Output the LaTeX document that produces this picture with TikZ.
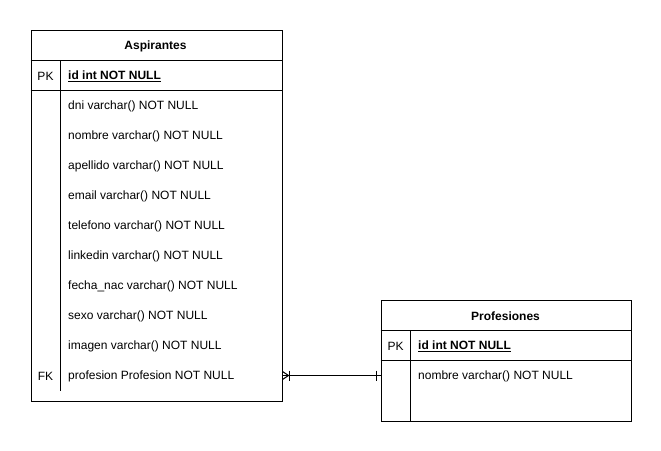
\documentclass[tikz,border=0pt]{standalone}
\usepackage{fontspec}
\setmainfont{Liberation Sans}
\usetikzlibrary{calc}
\begin{document}
\begin{tikzpicture}[x=1bp,y=-1bp,
  font=\fontsize{12bp}{14bp}\selectfont,
  tbl/.style={draw=black, line width=1bp, anchor=north west, inner sep=0pt},
  rule/.style={draw=black, line width=1bp},
  rowtxt/.style={anchor=west, inner sep=0pt, text=black, yshift=-1.2bp},
  keytxt/.style={inner sep=0pt, text=black, yshift=-1.2bp},
  ttl/.style={inner sep=0pt, yshift=-1.2bp, font=\fontsize{12bp}{14bp}\selectfont\bfseries},
  pktxt/.style={anchor=west, inner sep=0pt, yshift=-1.2bp, font=\fontsize{12bp}{14bp}\selectfont\bfseries}]
\useasboundingbox (0,0) rectangle (661,451);
\fill[white] (0,0) rectangle (661,451);
% Aspirantes
\node[tbl, minimum width=251bp, minimum height=370bp] (asp) at (30.5,30.5) {};
\draw[rule] ($(asp.north west)+(0,30)$) -- ($(asp.north east)+(0,30)$);
\draw[rule] ($(asp.north west)+(0,60)$) -- ($(asp.north east)+(0,60)$);
\draw[rule] ($(asp.north west)+(30,30)$) -- ($(asp.north west)+(30,60)$);
\draw[rule] ($(asp.north west)+(30,60)$) -- ($(asp.north west)+(30,360)$);
\node[ttl] (aspt) at (155.5,45.5) {Aspirantes};
\node[keytxt] (asppk) at (45.5,75.5) {PK};
\node[pktxt] (aspid) at (68,75.5) {\underline{id int NOT NULL}};
\node[rowtxt] (r1) at (68,105.5) {dni varchar() NOT NULL};
\node[rowtxt] (r2) at (68,135.5) {nombre varchar() NOT NULL};
\node[rowtxt] (r3) at (68,165.5) {apellido varchar() NOT NULL};
\node[rowtxt] (r4) at (68,195.5) {email varchar() NOT NULL};
\node[rowtxt] (r5) at (68,225.5) {telefono varchar() NOT NULL};
\node[rowtxt] (r6) at (68,255.5) {linkedin varchar() NOT NULL};
\node[rowtxt] (r7) at (68,285.5) {fecha\_nac varchar() NOT NULL};
\node[rowtxt] (r8) at (68,315.5) {sexo varchar() NOT NULL};
\node[rowtxt] (r9) at (68,345.5) {imagen varchar() NOT NULL};
\node[keytxt] (aspfk) at (45.5,375.5) {FK};
\node[rowtxt] (r10) at (68,375.5) {profesion Profesion NOT NULL};
% Profesiones
\node[tbl, minimum width=250bp, minimum height=120bp] (prof) at (380.5,300.5) {};
\draw[rule] ($(prof.north west)+(0,30)$) -- ($(prof.north east)+(0,30)$);
\draw[rule] ($(prof.north west)+(0,60)$) -- ($(prof.north east)+(0,60)$);
\draw[rule] ($(prof.north west)+(30,30)$) -- (prof.south west -| {$(prof.north west)+(30,0)$});
\node[ttl] (proft) at (505.5,315.5) {Profesiones};
\node[keytxt] (profpk) at (395.5,345.5) {PK};
\node[pktxt] (profid) at (418,345.5) {\underline{id int NOT NULL}};
\node[rowtxt] (p1) at (418,375.5) {nombre varchar() NOT NULL};
% connector
\coordinate (ca) at (asp.east |- 0,375.5);
\coordinate (cb) at (prof.west |- 0,375.5);
\draw[rule] (ca) -- (cb);
\draw[rule] ($(ca)+(0,-4)$) -- ($(ca)+(6,0)$) -- ($(ca)+(0,4)$);
\draw[rule] ($(ca)+(7,-5)$) -- ($(ca)+(7,5)$);
\draw[rule] ($(cb)+(-4,-5)$) -- ($(cb)+(-4,5)$);
\end{tikzpicture}
\end{document}
